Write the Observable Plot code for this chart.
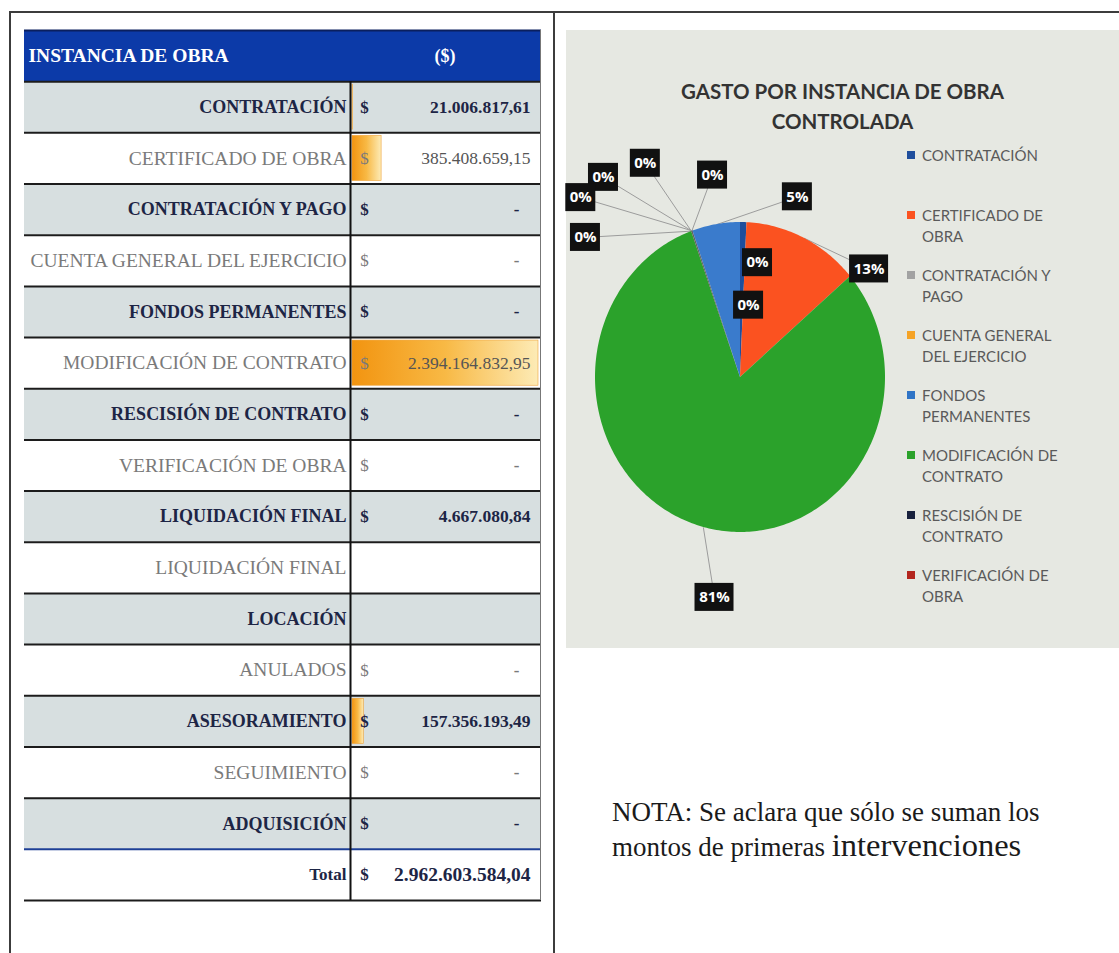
<!DOCTYPE html>
<html><head><meta charset="utf-8">
<script src="https://cdn.jsdelivr.net/npm/d3@7"></script>
<script src="https://cdn.jsdelivr.net/npm/@observablehq/plot@0.6"></script>
<style>
body{margin:0;background:#fff;}
#page{position:relative;width:1119px;height:953px;overflow:hidden;background:#fff;}
.ln{position:absolute;background:#3c3c3c;}
#table{position:absolute;left:24px;top:28px;}
#panel{position:absolute;left:566px;top:30px;width:553px;height:618px;background:#e6e8e2;}
#pie{position:absolute;left:0;top:0;}
#title{position:absolute;left:0;top:46px;width:553px;text-align:center;font:bold 20.5px Lato;color:#333;line-height:30px;}
#legend{position:absolute;left:341px;top:115px;width:205px;}
.item{height:60px;display:flex;align-items:flex-start;}
.sw{width:8px;height:8px;margin-top:6px;margin-right:7px;flex:none;}
.lt{width:150px;font:15px Lato;color:#5a5a5a;line-height:21px;}
.nota{position:absolute;left:612px;font-family:"Liberation Serif";font-size:27px;line-height:30px;color:#1a1a1a;white-space:nowrap;}
</style></head>
<body>
<div id="page">
  <div class="ln" style="left:10px;top:11px;width:1109px;height:2px;"></div>
  <div class="ln" style="left:9px;top:11px;width:2px;height:942px;"></div>
  <div class="ln" style="left:553px;top:11px;width:2px;height:942px;"></div>
  <div id="table"></div>
  <div id="panel">
    <div id="pie"></div>
    <div id="title">GASTO POR INSTANCIA DE OBRA<br>CONTROLADA</div>
    <div id="legend"></div>
  </div>
  <div class="nota" style="top:797px;">NOTA: Se aclara que sólo se suman los</div>
  <div class="nota" style="top:830px;">montos de primeras <span style="font-size:32.5px">intervenciones</span></div>
</div>
<script>
// ---- data ----
const rowNames = ["CONTRATACIÓN","CERTIFICADO DE OBRA","CONTRATACIÓN Y PAGO","CUENTA GENERAL DEL EJERCICIO","FONDOS PERMANENTES","MODIFICACIÓN DE CONTRATO","RESCISIÓN DE CONTRATO","VERIFICACIÓN DE OBRA","LIQUIDACIÓN FINAL","LIQUIDACIÓN FINAL","LOCACIÓN","ANULADOS","ASESORAMIENTO","SEGUIMIENTO","ADQUISICIÓN"];
const amounts = [21006817.61, 385408659.15, 0, 0, 0, 2394164832.95, 0, 0, 4667080.84, null, null, 0, 157356193.49, 0, 0];
const pieColors = ["#1f4e9c","#fb5220","#a2a2a2","#f5a326","#2f74c6","#2ba22b","#18213d","#b3261e","#636363","#997300","#264478","#43682b","#3a7bcc","#f1975a","#b7b7b7"];
const pieLabels = ["0%","13%",null,null,null,"81%","0%","0%","0%",null,"0%","0%","5%","0%",null];
const legendShown = 8; // the chart's legend shows only its first 8 entries
// callout placement (angle in degrees clockwise from 12 o'clock, radius as a fraction of the pie radius)
const labelAngle = [9, 51.7, null, null, null, 187.2, -8.4, -25.4, -36.2, null, -49.8, -43.5, 18.6, 6.8, null];
const labelRadius = [0.75, 1.13, null, null, null, 1.43, 1.32, 1.53, 1.60, null, 1.40, 1.60, 1.23, 0.47, null];

// ---- table ----
const es = d3.formatLocale({decimal: ",", thousands: ".", grouping: [3], currency: ["$", ""]});
const fmt = es.format(",.2f");
const maxAmt = d3.max(amounts);
const total = d3.sum(amounts);
const rows = rowNames.map((name, k) => ({i: k + 1, name, amount: amounts[k], strong: k % 2 === 0}));
const bands = [{i: 0, fill: "#0c3aa8"}, ...rows.map(r => ({i: r.i, fill: r.strong ? "#d7dfe0" : "#ffffff"})), {i: 16, fill: "#ffffff"}];
const serif = "Liberation Serif";
const dark = "#1d2545", grey = "#7a7a7a";
const withAmt = rows.filter(r => r.amount !== null);
const gradDefs = () => {
  const defs = d3.create("svg:defs");
  const g = defs.append("linearGradient").attr("id", "dbar").attr("x1", "0").attr("x2", "1").attr("y1", "0").attr("y2", "0");
  g.append("stop").attr("offset", "0").attr("stop-color", "#f29410");
  g.append("stop").attr("offset", "0.5").attr("stop-color", "#f8b945");
  g.append("stop").attr("offset", "1").attr("stop-color", "#fdebb6");
  return defs.node();
};
const table = Plot.plot({
  width: 517, height: 874, margin: 0,
  style: {background: "transparent", overflow: "visible"},
  x: {domain: [0, maxAmt], range: [327, 514], axis: null},
  y: {domain: [0, 17], range: [2, 872], axis: null},
  marks: [
    gradDefs,
    Plot.rect(bands, {y1: "i", y2: d => d.i + 1, fill: "fill"}),
    Plot.rect(rows.filter(r => r.amount > 0), {x1: 0, x2: "amount", y1: "i", y2: d => d.i + 1, insetTop: 3, insetBottom: 3, insetLeft: 1, fill: "url(#dbar)", stroke: "#eea23a", strokeWidth: 0.6}),
    Plot.ruleY([0], {stroke: "#0a1f5e", strokeWidth: 2}),
    Plot.ruleY(d3.range(1, 18), {y: d => d, stroke: k => k === 16 ? "#1d3f95" : "#1c1c1c", strokeWidth: 2}),
    Plot.ruleX([0], {y1: 1, y2: 17, stroke: "#111", strokeWidth: 2, dx: -1}),
    Plot.ruleX([maxAmt], {y1: 0, y2: 17, stroke: "#777", strokeWidth: 1, dx: 2}),
    Plot.text(["INSTANCIA DE OBRA"], {frameAnchor: "left", y: 0.5, dx: 4, textAnchor: "start", fill: "#fff", fontWeight: "bold", fontSize: 19.5, fontFamily: serif}),
    Plot.text(["($)"], {x: maxAmt / 2, y: 0.5, fill: "#fff", fontWeight: "bold", fontSize: 18, fontFamily: serif}),
    Plot.text(rows.filter(r => r.strong), {x: 0, y: d => d.i + 0.5, text: "name", textAnchor: "end", dx: -5, fill: dark, fontWeight: "bold", fontSize: 18, fontFamily: serif}),
    Plot.text(rows.filter(r => !r.strong), {x: 0, y: d => d.i + 0.5, text: "name", textAnchor: "end", dx: -5, fill: grey, fontSize: 19.5, fontFamily: serif}),
    Plot.text(withAmt.filter(r => r.strong), {x: 0, y: d => d.i + 0.5, text: () => "$", dx: 13, fill: dark, fontWeight: "bold", fontSize: 17, fontFamily: serif}),
    Plot.text(withAmt.filter(r => !r.strong), {x: 0, y: d => d.i + 0.5, text: () => "$", dx: 13, fill: grey, fontSize: 17, fontFamily: serif}),
    Plot.text(withAmt.filter(r => r.amount > 0 && r.strong), {x: maxAmt, y: d => d.i + 0.5, text: d => fmt(d.amount), textAnchor: "end", dx: -8, fill: dark, fontWeight: "bold", fontSize: 17.5, fontFamily: serif}),
    Plot.text(withAmt.filter(r => r.amount > 0 && !r.strong), {x: maxAmt, y: d => d.i + 0.5, text: d => fmt(d.amount), textAnchor: "end", dx: -8, fill: "#555", fontSize: 17.5, fontFamily: serif}),
    Plot.text(withAmt.filter(r => r.amount === 0), {x: maxAmt, y: d => d.i + 0.5, text: () => "-", dx: -22, fill: d => d.strong ? dark : grey, fontWeight: "bold", fontSize: 17, fontFamily: serif}),
    Plot.text(["Total"], {x: 0, y: 16.5, textAnchor: "end", dx: -5, fill: dark, fontWeight: "bold", fontSize: 17, fontFamily: serif}),
    Plot.text(["$"], {x: 0, y: 16.5, dx: 13, fill: dark, fontWeight: "bold", fontSize: 17, fontFamily: serif}),
    Plot.text([fmt(total)], {x: maxAmt, y: 16.5, textAnchor: "end", dx: -8, fill: dark, fontWeight: "bold", fontSize: 19.5, fontFamily: serif})
  ]
});
document.getElementById("table").append(table);

// ---- pie ----
const RX = 145, RY = 155, CX = 174, CY = 347;
const pieData = rowNames.map((name, k) => ({name, v: amounts[k] ?? 0, color: pieColors[k], label: pieLabels[k], la: labelAngle[k], lr: labelRadius[k]}));
const arcs = d3.pie().sort(null).value(d => d.v)(pieData);
const step = Math.PI / 180;
const wedgePts = arcs.filter(a => a.data.v > 0).flatMap(a => {
  const n = Math.max(2, Math.ceil((a.endAngle - a.startAngle) / step) + 1);
  return d3.range(n).map(k => {
    const t = a.startAngle + (a.endAngle - a.startAngle) * k / (n - 1);
    return {key: a.index, color: a.data.color, x: Math.sin(t), y: Math.cos(t), cx: 0, cy: 0};
  });
});
const labelData = arcs.filter(a => a.data.label).map(a => {
  const t = a.data.la * Math.PI / 180, r = a.data.lr;
  const mid = (a.startAngle + a.endAngle) / 2;
  const w = a.data.label.length * 9 + 12;
  return {text: a.data.label, lx: r * Math.sin(t), ly: r * Math.cos(t), ax: Math.sin(mid), ay: Math.cos(mid), hw: w / 2 / RX, hh: 14 / RY, outside: r > 1.05};
});
const pie = Plot.plot({
  width: 553, height: 618, margin: 0,
  style: {background: "transparent", overflow: "visible"},
  x: {domain: [-1, 1], range: [CX - RX, CX + RX], axis: null},
  y: {domain: [-1, 1], range: [CY + RY, CY - RY], axis: null},
  marks: [
    Plot.link(labelData.filter(d => d.outside), {x1: "ax", y1: "ay", x2: "lx", y2: "ly", stroke: "#9c9c9c", strokeWidth: 1}),
    Plot.area(wedgePts, {x1: "x", y1: "y", x2: "cx", y2: "cy", z: "key", fill: "color"}),
    Plot.rect(labelData, {x1: d => d.lx - d.hw, x2: d => d.lx + d.hw, y1: d => d.ly - d.hh, y2: d => d.ly + d.hh, fill: "#111"}),
    Plot.text(labelData, {x: "lx", y: "ly", text: "text", fill: "#fff", fontWeight: "bold", fontSize: 15, fontFamily: "Open Sans"})
  ]
});
document.getElementById("pie").append(pie);

// ---- legend ----
const legend = d3.select("#legend");
pieData.slice(0, legendShown).forEach(d => {
  const it = legend.append("div").attr("class", "item");
  it.append("div").attr("class", "sw").style("background", d.color);
  it.append("div").attr("class", "lt").text(d.name);
});
</script>
</body></html>
